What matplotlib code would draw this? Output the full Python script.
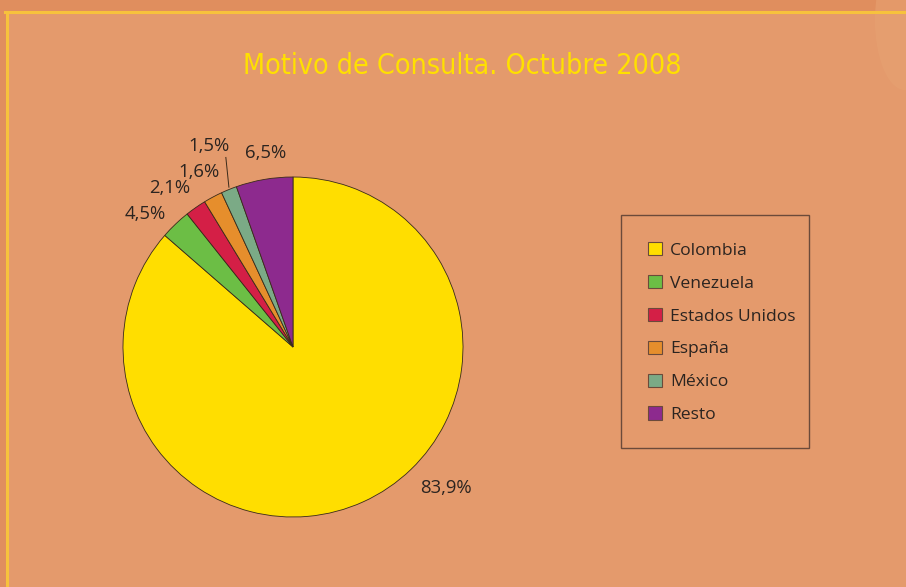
import matplotlib
matplotlib.use("Agg")
import matplotlib.pyplot as plt
from matplotlib.patches import Rectangle, Ellipse, Patch
from matplotlib.lines import Line2D
import numpy as np

categories = ["Colombia", "Venezuela", "Estados Unidos", "España", "México", "Resto"]
# shares as drawn in the picture (wedge angles)
wedge_shares = [86.4, 2.9, 2.0, 1.8, 1.5, 5.4]
# percentages as printed on the chart
value_labels = ["83,9%", "4,5%", "2,1%", "1,6%", "1,5%", "6,5%"]
colors = ["#FFDE00", "#6CBE45", "#D41F46", "#E68E2C", "#7BAA86", "#8D2A8E"]
title = "Motivo de Consulta. Octubre 2008"

W, H = 906, 587
fig = plt.figure(figsize=(W / 100, H / 100), dpi=100)
fig.patch.set_facecolor("#E08E5E")

# inner panel
fig.patches.append(Rectangle((7 / W, 0), 1, 1 - 12 / H, transform=fig.transFigure,
                             facecolor="#E49A6C", edgecolor="none", zorder=0))
# decorative shape top-right
fig.patches.append(Ellipse((905 / W, 1 - 20 / H), 60 / W, 140 / H, transform=fig.transFigure,
                           facecolor="#E7A272", edgecolor="none", alpha=0.6, zorder=0.5))
# yellow border lines
fig.lines.append(Line2D([5 / W, 1], [1 - 12 / H, 1 - 12 / H], transform=fig.transFigure,
                        color="#F7C23C", lw=2.2, zorder=1))
fig.lines.append(Line2D([7 / W, 7 / W], [0, 1 - 12 / H], transform=fig.transFigure,
                        color="#F7C23C", lw=2.2, zorder=1))

fig.text(462 / W, 1 - 66 / H, title, ha="center", va="center", color="#FFE000",
         fontsize=20.5, fontstretch="condensed",
         family=["Liberation Sans Narrow", "DejaVu Sans"])

cx, cy, r = 293, 347, 170
ax = fig.add_axes([(cx - r) / W, (H - cy - r) / H, 2 * r / W, 2 * r / H])
ax.set_zorder(3)
ax.set_facecolor("none")
wedges, _ = ax.pie(wedge_shares, colors=colors, startangle=90, counterclock=False,
                   wedgeprops=dict(edgecolor="#3a2a1a", linewidth=0.6), radius=1.0)
ax.set_xlim(-1, 1)
ax.set_ylim(-1, 1)
ax.set_aspect("equal")
ax.axis("off")

label_pos = [(0.90, -0.83), (-0.87, 0.78), (-0.725, 0.935), (-0.55, 1.03), (-0.495, 1.18), (-0.16, 1.14)]
lab_font = ["Open Sans", "DejaVu Sans"]
for (x, y), t in zip(label_pos, value_labels):
    ax.text(x, y, t, ha="center", va="center", fontsize=13.3, color="#2b2420",
            family=lab_font, clip_on=False)
# leader line for México
ax.plot([-0.395, -0.377], [1.115, 0.94], color="#3a2a1a", lw=0.7, clip_on=False)

# legend box
fig.patches.append(Rectangle((621 / W, 1 - 448 / H), 188 / W, 233 / H, transform=fig.transFigure,
                             facecolor="none", edgecolor="#6b4a3a", lw=1.0, zorder=2))
handles = [Patch(facecolor=c, edgecolor="#6b4a3a", linewidth=0.8) for c in colors]
leg = fig.legend(handles, categories, loc="upper left",
                 bbox_to_anchor=(648 / W, 1 - 242 / H), frameon=False,
                 handlelength=0.8, handleheight=0.8, handletextpad=0.45,
                 labelspacing=0.92, borderpad=0, borderaxespad=0,
                 prop=dict(family=lab_font, size=12.6))
for t in leg.get_texts():
    t.set_color("#2b2420")

fig.savefig("out.png", dpi=100, facecolor=fig.get_facecolor())
